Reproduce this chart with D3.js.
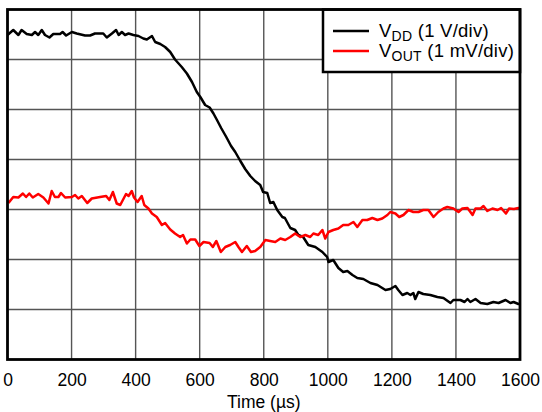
<!DOCTYPE html>
<html>
<head>
<meta charset="utf-8">
<script src="https://cdn.jsdelivr.net/npm/d3@7"></script>
<style>
  html, body { margin: 0; padding: 0; background: #fff; }
  svg { display: block; font-family: "Liberation Sans", Arial, Helvetica, sans-serif; }
</style>
</head>
<body>
<svg id="chart" width="542" height="412"></svg>
<script>
// Time axis (µs) and vertical divisions
const xTicks = [0, 200, 400, 600, 800, 1000, 1200, 1400, 1600];
const yDivs = [0, 1, 2, 3, 4, 5, 6, 7];
const xLabel = "Time (\u00b5s)";

// VDD trace: time (µs), value in divisions (1 V/div)
const vddTime = [0,18,34,44,60,76,86,96,107,117,131,143,164,172,183,201,216,242,258,273,299,310,326,339,347,357,367,378,393,409,424,435,451,461,477,492,508,523,544,560,576,591,602,617,631,643,654,667,683,698,711,727,742,758,773,789,798,811,820,830,842,858,866,883,898,908,923,939,961,983,998,1002,1017,1033,1048,1061,1077,1092,1111,1133,1155,1180,1195,1211,1220,1233,1248,1258,1267,1273,1283,1298,1320,1342,1361,1383,1392,1414,1427,1436,1445,1461,1477,1498,1517,1533,1555,1570,1580,1595,1600];
const vddDiv = [6.49,6.59,6.49,6.59,6.51,6.49,6.55,6.49,6.59,6.49,6.44,6.51,6.51,6.55,6.48,6.55,6.52,6.48,6.48,6.52,6.52,6.44,6.52,6.59,6.49,6.55,6.49,6.52,6.49,6.47,6.42,6.40,6.47,6.35,6.31,6.25,6.15,6.00,5.85,5.72,5.55,5.35,5.25,5.09,5.04,4.92,4.79,4.63,4.45,4.27,4.15,3.97,3.81,3.67,3.57,3.49,3.35,3.33,3.13,3.15,2.99,2.85,2.83,2.63,2.59,2.49,2.45,2.29,2.25,2.15,2.05,1.95,1.99,1.83,1.75,1.77,1.69,1.63,1.61,1.53,1.49,1.39,1.41,1.47,1.39,1.29,1.33,1.29,1.33,1.21,1.35,1.31,1.29,1.25,1.23,1.13,1.19,1.19,1.15,1.21,1.15,1.21,1.13,1.11,1.15,1.13,1.19,1.13,1.15,1.11,1.11];

// VOUT trace: time (µs), value in divisions (1 mV/div)
const voutTime = [3,18,34,48,58,68,79,96,112,128,138,148,159,167,180,201,211,221,232,249,263,289,308,318,329,341,352,370,378,388,395,406,419,427,440,451,466,482,492,508,523,539,548,560,571,586,599,612,631,641,652,666,680,695,711,721,732,747,760,773,789,805,820,836,852,867,883,898,914,930,945,955,970,983,992,1002,1017,1033,1048,1064,1080,1092,1108,1123,1139,1155,1170,1186,1195,1211,1223,1236,1252,1267,1283,1298,1314,1330,1345,1361,1373,1392,1408,1420,1436,1452,1461,1477,1486,1498,1514,1530,1541,1556,1566,1581,1595,1600];
const voutDiv = [3.13,3.25,3.24,3.32,3.25,3.32,3.24,3.31,3.24,3.12,3.37,3.25,3.25,3.33,3.24,3.25,3.29,3.22,3.27,3.13,3.22,3.25,3.27,3.19,3.35,3.12,3.09,3.31,3.27,3.37,3.24,3.15,3.27,3.09,3.02,2.92,2.85,2.69,2.73,2.60,2.52,2.45,2.49,2.32,2.40,2.40,2.27,2.35,2.33,2.25,2.37,2.15,2.25,2.29,2.35,2.25,2.15,2.27,2.15,2.17,2.25,2.39,2.37,2.35,2.42,2.39,2.45,2.52,2.45,2.49,2.45,2.52,2.49,2.59,2.42,2.55,2.59,2.62,2.69,2.69,2.75,2.65,2.79,2.79,2.83,2.79,2.82,2.89,2.95,2.92,2.85,2.89,2.99,2.95,2.95,2.99,2.99,2.85,2.95,3.02,3.05,3.02,2.95,3.02,3.03,2.89,3.02,3.02,3.07,2.97,3.02,2.99,3.03,2.92,3.02,3.01,3.03,3.03];

const legendNames = [["V", "DD", " (1 V/div)"], ["V", "OUT", " (1 mV/div)"]];
const seriesColors = ["#000000", "#ff0000"];

const svg = d3.select("#chart");
const pLeft = 7.5, pRight = 520, pTop = 9.5, pBottom = 359.5;

const x = d3.scaleLinear().domain([0, 1600]).range([pLeft, pRight]);
const y = d3.scaleLinear().domain([0, 7]).range([pBottom, pTop]);

// grid
const grid = svg.append("g");
grid.selectAll("line.v").data(xTicks.slice(1, -1)).join("line")
  .attr("x1", d => x(d)).attr("x2", d => x(d))
  .attr("y1", pTop).attr("y2", pBottom)
  .attr("stroke", "#555").attr("stroke-width", 1.4);
grid.selectAll("line.h").data(yDivs.slice(1, -1)).join("line")
  .attr("x1", pLeft).attr("x2", pRight)
  .attr("y1", d => y(d)).attr("y2", d => y(d))
  .attr("stroke", "#555").attr("stroke-width", 1.4);

// x axis tick labels
const xAxis = d3.axisBottom(x).tickValues(xTicks).tickSize(0).tickPadding(14).tickFormat(d3.format("d"));
const gx = svg.append("g").attr("transform", `translate(0,${pBottom})`).call(xAxis);
gx.select(".domain").remove();
gx.selectAll("text").attr("font-size", "17.5px").attr("fill", "#000")
  .attr("font-family", "'Liberation Sans', Arial, sans-serif");

svg.append("text").attr("x", (pLeft + pRight) / 2).attr("y", 408)
  .attr("text-anchor", "middle").attr("font-size", "17.5px").attr("fill", "#000")
  .text(xLabel);

// traces
const line = d3.line().x(d => x(d[0])).y(d => y(d[1]));
const series = [d3.zip(vddTime, vddDiv), d3.zip(voutTime, voutDiv)];
svg.append("g").selectAll("path").data(series).join("path")
  .attr("d", line)
  .attr("fill", "none")
  .attr("stroke", (d, i) => seriesColors[i])
  .attr("stroke-width", 2.5)
  .attr("stroke-linejoin", "round");

// legend
const lg = svg.append("g");
lg.append("rect").attr("x", 323).attr("y", pTop).attr("width", pRight - 323).attr("height", 62.5)
  .attr("fill", "#fff").attr("stroke", "#000").attr("stroke-width", 2.5);
legendNames.forEach((nm, i) => {
  const cy = 31 + i * 20;
  lg.append("line").attr("x1", 333).attr("x2", 369).attr("y1", cy).attr("y2", cy)
    .attr("stroke", seriesColors[i]).attr("stroke-width", 2.5);
  const t = lg.append("text").attr("x", 379).attr("y", cy + 6)
    .attr("font-size", "18.5px").attr("letter-spacing", "0.25px").attr("fill", "#000");
  t.append("tspan").text(nm[0]);
  t.append("tspan").attr("font-size", "14px").attr("dy", 3.5).text(nm[1]);
  t.append("tspan").attr("dy", -3.5).text(nm[2]);
});

// plot frame
svg.append("rect").attr("x", pLeft).attr("y", pTop)
  .attr("width", pRight - pLeft).attr("height", pBottom - pTop)
  .attr("fill", "none").attr("stroke", "#000").attr("stroke-width", 2.8);
</script>
</body>
</html>
